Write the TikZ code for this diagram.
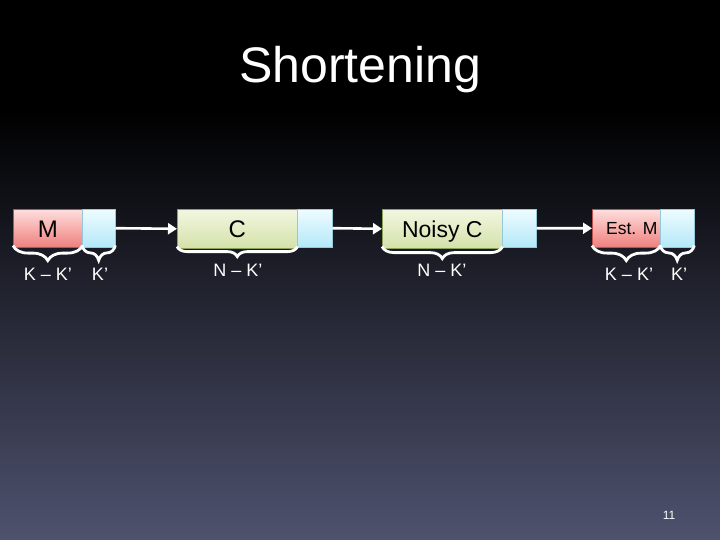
\documentclass[tikz,border=0pt]{standalone}
\usepackage{fontspec}
\setmainfont{Liberation Sans}
\usetikzlibrary{decorations.pathreplacing,arrows.meta}
\definecolor{bgbot}{RGB}{78,82,110}
\definecolor{pinktop}{RGB}{255,222,222}
\definecolor{pinkbot}{RGB}{238,128,125}
\definecolor{pinkline}{RGB}{190,80,75}
\definecolor{greentop}{RGB}{242,246,224}
\definecolor{greenbot}{RGB}{212,226,170}
\definecolor{greenline}{RGB}{140,160,90}
\definecolor{cyantop}{RGB}{238,252,255}
\definecolor{cyanbot}{RGB}{180,232,248}
\definecolor{cyanline}{RGB}{150,200,215}
\tikzset{
  box/.style={minimum height=38pt, inner sep=0pt, anchor=north west},
  msgbox/.style={box, top color=pinktop, bottom color=pinkbot, draw=pinkline, line width=0.6pt},
  codebox/.style={box, top color=greentop, bottom color=greenbot, draw=greenline, line width=0.6pt},
  redbox/.style={box, top color=cyantop, bottom color=cyanbot, draw=cyanline, line width=0.4pt},
  boxtext/.style={anchor=base, inner sep=0pt, font=\fontsize{#1}{28}\selectfont},
  conn/.style={white, line width=2.6pt, -{Triangle[length=9pt,width=11pt]}},
  brc/.style={white, line width=2.8pt, decorate, decoration={brace, mirror, amplitude=#1}},
  lbl/.style={white, font=\fontsize{18}{20}\selectfont, inner sep=0pt}
}
\begin{document}
\begin{tikzpicture}[x=1pt,y=-1pt]
\useasboundingbox (0,0) rectangle (720,540);
\fill[black] (0,0) rectangle (720,110);
\shade[top color=black, bottom color=bgbot] (0,109.5) rectangle (720,540);
\node[white, font=\fontsize{50}{60}\selectfont, inner sep=0pt] (title) at (360,70) {Shortening};

\node[msgbox, minimum width=69pt] (m) at (13,209) {};
\node[boxtext=24] (mt) at (m.center |- 0,237) {M};
\node[redbox, minimum width=33pt] (mr) at (82,209) {};

\node[codebox, minimum width=120pt] (c) at (177,209.5) {};
\node[boxtext=24] (ct) at (c.center |- 0,237) {C};
\node[redbox, minimum width=35pt] (cr) at (297,209) {};

\node[codebox, minimum width=120pt] (n) at (382,209.5) {};
\node[boxtext=23] (nt) at (n.center |- 0,237) {Noisy C};
\node[redbox, minimum width=34pt] (nr) at (502,209) {};

\node[msgbox, minimum width=68pt] (e) at (592,209) {};
\node[boxtext=17.5, anchor=base east] (et) at ([xshift=-3pt]e.east |- 0,235) {Est. M};
\node[redbox, minimum width=34pt] (er) at (660,209) {};

\draw[conn] (mr.east) -- (c.west);
\draw[conn] (cr.east) -- (n.west);
\draw[conn] (nr.east) -- (e.west);

\draw[brc=15pt] ([yshift=2pt]m.south west) -- ([yshift=2pt]m.south east);
\draw[brc=15pt] ([yshift=2pt]mr.south west) -- ([yshift=2pt]mr.south east);
\draw[brc=10pt] ([yshift=1.5pt]c.south west) -- ([yshift=1.5pt]c.south east);
\draw[brc=12pt] ([yshift=1.5pt]n.south west) -- ([yshift=1.5pt]n.south east);
\draw[brc=15pt] ([yshift=2pt]e.south west) -- ([yshift=2pt]e.south east);
\draw[brc=15pt] ([yshift=2pt]er.south west) -- ([yshift=2pt]er.south east);

\node[lbl] (l1) at (48,274) {K – K’};
\node[lbl] (l2) at (100,274) {K’};
\node[lbl] (l3) at (238,270) {N – K’};
\node[lbl] (l4) at (442,270) {N – K’};
\node[lbl] (l5) at (629,274) {K – K’};
\node[lbl] (l6) at (679,274) {K’};

\node[white, font=\fontsize{12}{14}\selectfont, inner sep=0pt] (pg) at (669,515) {11};
\end{tikzpicture}
\end{document}
